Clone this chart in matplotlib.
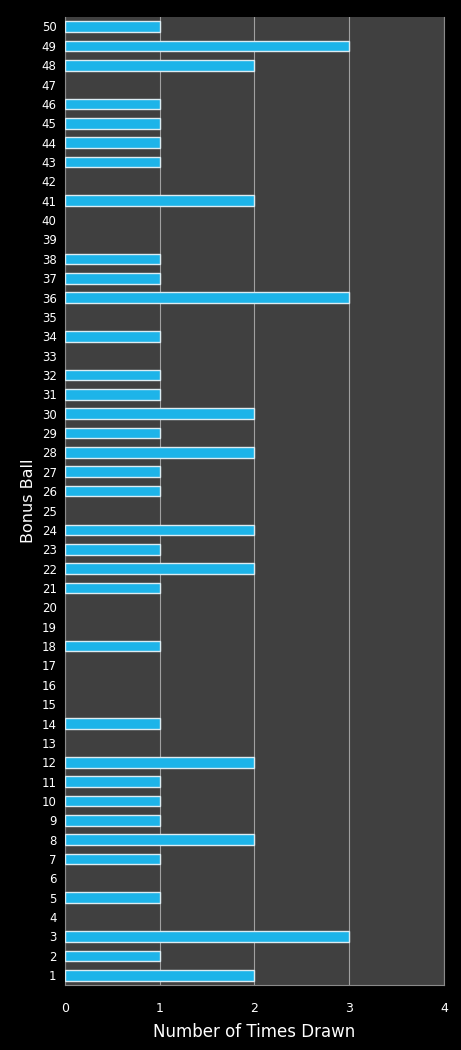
import numpy as np
import matplotlib.pyplot as plt

balls = np.arange(1, 51)
times_drawn = [2, 1, 3, 0, 1, 0, 1, 2, 1, 1,
               1, 2, 0, 1, 0, 0, 0, 1, 0, 0,
               1, 2, 1, 2, 0, 1, 1, 2, 1, 2,
               1, 1, 0, 1, 0, 3, 1, 1, 0, 0,
               2, 0, 1, 1, 1, 1, 0, 2, 3, 1]
xticks = [0, 1, 2, 3, 4]

fig = plt.figure(figsize=(4.61, 10.5), dpi=100, facecolor="black")
ax = fig.add_axes([0.141, 0.062, 0.822, 0.922])
ax.set_facecolor("#404040")

# light edge to mimic the glossy bars, no edge for empty bars
edges = ["#dcecf2" if v > 0 else "none" for v in times_drawn]
ax.barh(balls, times_drawn, height=0.55, color="#1DB4E9", edgecolor=edges, linewidth=1.0, zorder=3)

ax.set_xlim(0, 4)
ax.set_ylim(0.5, 50.5)
ax.set_xticks(xticks)
ax.set_yticks(balls)
ax.grid(axis="x", color="#a0a0a0", linewidth=0.8, zorder=1)
ax.tick_params(colors="white", length=0, labelsize=8.5)
ax.tick_params(axis="x", pad=12, labelsize=9)
ax.tick_params(axis="y", pad=6)
for s in ax.spines.values():
    s.set_color("#8a8a8a")
    s.set_linewidth(0.8)
ax.spines["top"].set_visible(False)

ax.set_xlabel("Number of Times Drawn", color="white", fontsize=12, labelpad=6)
ax.set_ylabel("Bonus Ball", color="white", fontsize=11.5, labelpad=4)

fig.savefig("out.png", dpi=100, facecolor="black")
